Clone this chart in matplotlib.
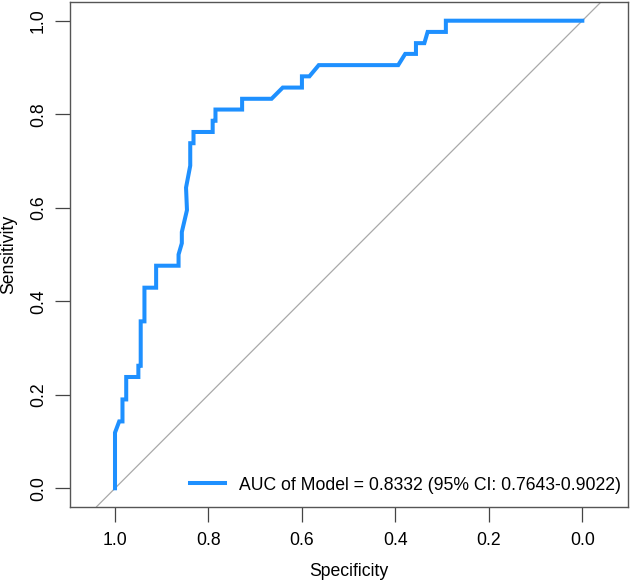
import numpy as np
import matplotlib.pyplot as plt

plt.rcParams['font.family'] = ['Liberation Sans', 'DejaVu Sans']

# ROC curve (specificity, sensitivity)
spec = [1.000, 1.000, 0.991, 0.984, 0.984, 0.976, 0.976, 0.950, 0.950, 0.945,
        0.945, 0.937, 0.937, 0.912, 0.912, 0.864, 0.864, 0.857, 0.857, 0.846,
        0.848, 0.839, 0.839, 0.832, 0.832, 0.791, 0.791, 0.785, 0.785, 0.728,
        0.728, 0.665, 0.641, 0.600, 0.600, 0.584, 0.564, 0.394, 0.379, 0.356,
        0.356, 0.338, 0.331, 0.292, 0.292, 0.000]
sens = [0.000, 0.119, 0.143, 0.143, 0.190, 0.190, 0.238, 0.238, 0.262, 0.262,
        0.357, 0.357, 0.429, 0.429, 0.476, 0.476, 0.500, 0.524, 0.548, 0.595,
        0.643, 0.690, 0.738, 0.738, 0.762, 0.762, 0.786, 0.786, 0.810, 0.810,
        0.833, 0.833, 0.857, 0.857, 0.881, 0.881, 0.905, 0.905, 0.929, 0.929,
        0.952, 0.952, 0.976, 0.976, 1.000, 1.000]
label = 'AUC of Model = 0.8332 (95% CI: 0.7643-0.9022)'
ticks = [1.0, 0.8, 0.6, 0.4, 0.2, 0.0]

fs = 12.7
fig = plt.figure(figsize=(6.3, 5.81), dpi=100)
ax = fig.add_axes([70 / 630, (581 - 506.7) / 581, 558.3 / 630, 504.7 / 581])

ax.axline((1, 0), (0, 1), color='#A9A9A9', lw=0.9, zorder=1)
ax.plot(spec, sens, color='#1E90FF', lw=2.9, label=label, zorder=2,
        solid_joinstyle='miter')

ax.set_xlim(1.0963, -0.0984)
ax.set_ylim(-0.0394, 1.04)
ax.set_xticks(ticks)
ax.set_xticklabels(['%.1f' % t for t in ticks])
ax.set_yticks(ticks)
ax.set_yticklabels(['%.1f' % t for t in ticks], rotation=90, va='center')
ax.tick_params(direction='out', length=10.5, width=0.9, color='#444444',
               labelsize=fs, pad=8)
ax.tick_params(axis='y', pad=6)
for s in ax.spines.values():
    s.set_color('#555555')
    s.set_linewidth(1.0)

ax.set_xlabel('Specificity', fontsize=fs, labelpad=10)
ax.set_ylabel('Sensitivity', fontsize=fs, labelpad=9)

ax.legend(loc='lower right', bbox_to_anchor=(1.0, 0.012), frameon=False,
          fontsize=fs, handlelength=2.0, handletextpad=0.8,
          borderaxespad=0.0, borderpad=0.4)

fig.savefig('out.png', dpi=100)
